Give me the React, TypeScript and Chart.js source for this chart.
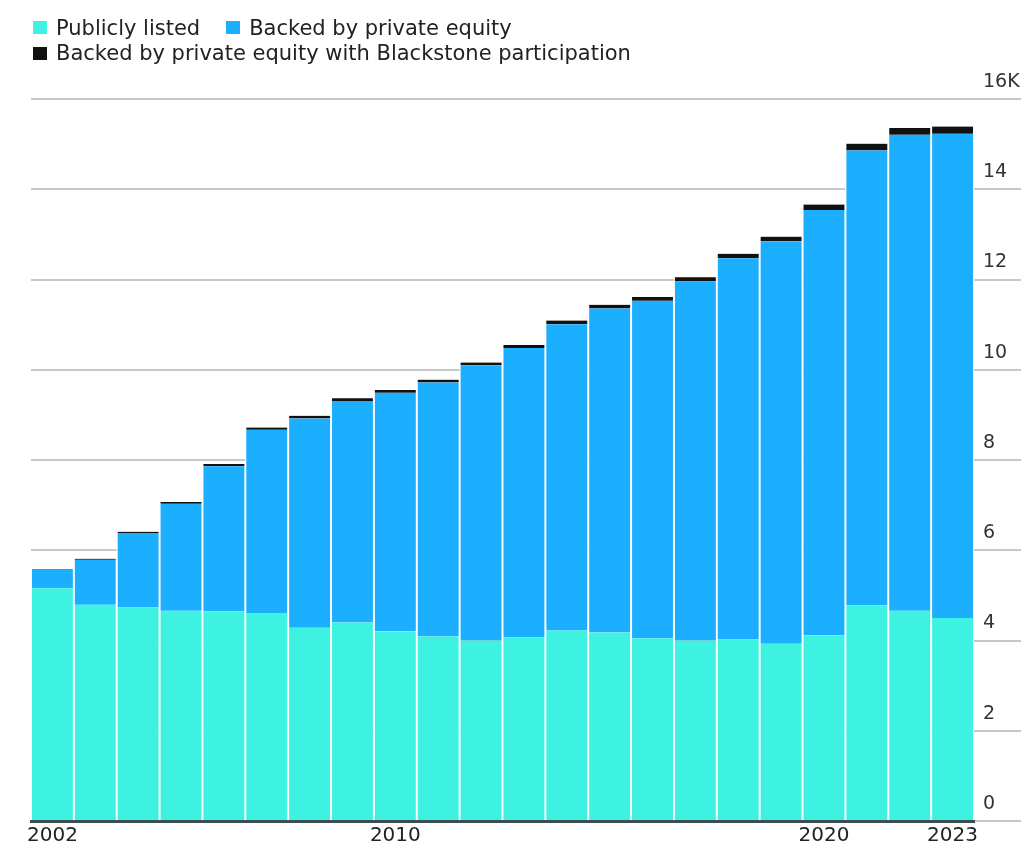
import React, { useEffect, useRef } from 'react';
import { Chart, registerables } from 'chart.js';

Chart.register(...registerables);

const years = [
  '2002', '2003', '2004', '2005', '2006', '2007', '2008', '2009', '2010', '2011', '2012',
  '2013', '2014', '2015', '2016', '2017', '2018', '2019', '2020', '2021', '2022', '2023',
];
const labeledYears = ['2002', '2010', '2020', '2023'];

const publiclyListed = [
  5160, 4790, 4730, 4660, 4650, 4610, 4280, 4400, 4200, 4090, 4000,
  4070, 4220, 4180, 4050, 4000, 4020, 3930, 4110, 4780, 4660, 4500,
];
const privateEquity = [
  410, 1000, 1650, 2370, 3210, 4060, 4640, 4910, 5290, 5630, 6100,
  6410, 6790, 7180, 7480, 7960, 8450, 8920, 9430, 10080, 10550, 10730,
];
const blackstone = [
  10, 20, 30, 40, 50, 50, 60, 60, 60, 60, 60,
  70, 80, 80, 80, 90, 100, 100, 120, 150, 150, 160,
];

const yTickValues = [0, 2000, 4000, 6000, 8000, 10000, 12000, 14000, 16000];

const seriesNames = [
  'Publicly listed',
  'Backed by private equity',
  'Backed by private equity with Blackstone participation',
];
const seriesColors = ['#3DF2E1', '#1DAFFF', '#111111'];
const legendRows = [[0, 1], [2]];

const FONT = "'DejaVu Sans', 'Liberation Sans', Arial, sans-serif";

export default function App() {
  const canvasRef = useRef<HTMLCanvasElement>(null);

  useEffect(() => {
    const seriesData = [publiclyListed, privateEquity, blackstone];
    const chart = new Chart(canvasRef.current as HTMLCanvasElement, {
      type: 'bar',
      data: {
        labels: years,
        datasets: seriesData.map((d, i) => ({
          label: seriesNames[i],
          data: d,
          backgroundColor: seriesColors[i],
          borderColor: '#ffffff',
          borderWidth: { left: 1.3, right: 1.3, top: 0, bottom: 0 },
          barPercentage: 1,
          categoryPercentage: 1,
        })),
      },
      options: {
        animation: false,
        responsive: true,
        maintainAspectRatio: false,
        events: [],
        layout: { padding: { left: 31, top: 99, right: 0, bottom: 0 } },
        plugins: {
          legend: { display: false },
          tooltip: { enabled: false },
        },
        scales: {
          x: {
            stacked: true,
            z: 1,
            grid: { display: false, drawTicks: false },
            border: { display: true, color: '#3b4f4e', width: 3 },
            ticks: {
              autoSkip: false,
              maxRotation: 0,
              padding: 3,
              color: '#222222',
              font: { family: FONT, size: 20 },
              callback: (_v: any, i: number) => (labeledYears.includes(years[i]) ? years[i] : ''),
            },
            afterFit: (s: any) => {
              s.height = 24;
            },
          },
          y: {
            stacked: true,
            position: 'right',
            min: 0,
            max: 16000,
            afterBuildTicks: (s: any) => {
              s.ticks = yTickValues.map((v) => ({ value: v }));
            },
            grid: { color: '#c8c8c8', lineWidth: 2, drawTicks: true, tickLength: 47 },
            border: { display: false },
            ticks: {
              padding: -38,
              labelOffset: -17,
              color: '#333333',
              font: { family: FONT, size: 19 },
              callback: (v: any) => (Number(v) === 16000 ? '16K' : String(Number(v) / 1000)),
            },
            afterFit: (s: any) => {
              s.width = 47;
            },
          },
        },
      },
    });
    return () => chart.destroy();
  }, []);

  return (
    <div
      style={{
        position: 'absolute',
        left: 0,
        top: 0,
        width: 1021,
        height: 845,
        background: '#ffffff',
        overflow: 'hidden',
      }}
    >
      <canvas ref={canvasRef} />
      <div
        style={{
          position: 'absolute',
          left: 33,
          top: 15,
          fontFamily: FONT,
          fontSize: 21,
          color: '#222222',
        }}
      >
        {legendRows.map((row, ri) => (
          <div key={ri} style={{ display: 'flex', alignItems: 'center', height: 25.5 }}>
            {row.map((si, k) => (
              <div
                key={si}
                style={{ display: 'flex', alignItems: 'center', marginLeft: k > 0 ? 26 : 0 }}
              >
                <span
                  style={{
                    display: 'inline-block',
                    width: 14,
                    height: 13,
                    background: seriesColors[si],
                    marginRight: 9,
                  }}
                />
                <span style={{ whiteSpace: 'nowrap' }}>{seriesNames[si]}</span>
              </div>
            ))}
          </div>
        ))}
      </div>
    </div>
  );
}
